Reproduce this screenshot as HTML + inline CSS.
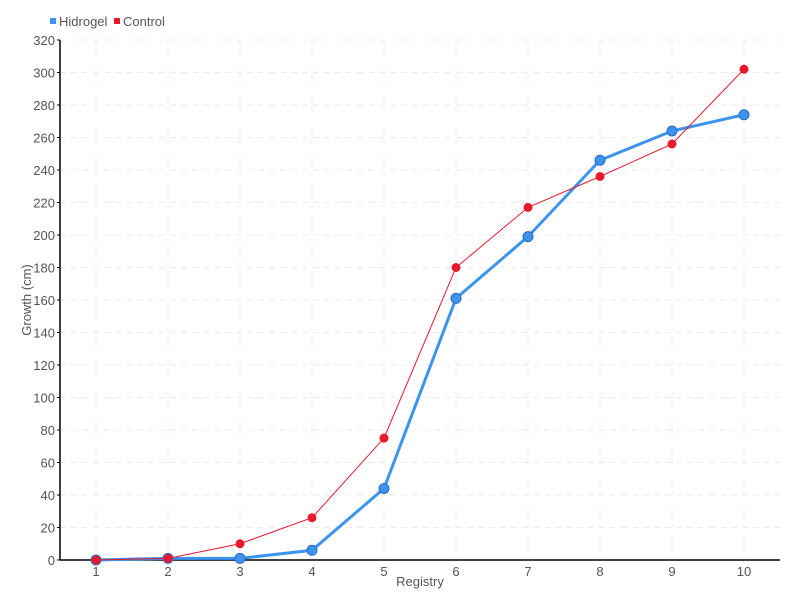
<!DOCTYPE html><html><head><style>body{margin:0;background:#fff}svg{display:block;font-family:"Liberation Sans",sans-serif}</style></head><body>
<svg width="800" height="600" xmlns="http://www.w3.org/2000/svg">
<g stroke="#ebebeb" stroke-dasharray="6,5">
<line x1="60" x2="780" y1="527.5" y2="527.5"/><line x1="60" x2="780" y1="495" y2="495"/><line x1="60" x2="780" y1="462.5" y2="462.5"/><line x1="60" x2="780" y1="430" y2="430"/><line x1="60" x2="780" y1="397.5" y2="397.5"/><line x1="60" x2="780" y1="365" y2="365"/><line x1="60" x2="780" y1="332.5" y2="332.5"/><line x1="60" x2="780" y1="300" y2="300"/><line x1="60" x2="780" y1="267.5" y2="267.5"/><line x1="60" x2="780" y1="235" y2="235"/><line x1="60" x2="780" y1="202.5" y2="202.5"/><line x1="60" x2="780" y1="170" y2="170"/><line x1="60" x2="780" y1="137.5" y2="137.5"/><line x1="60" x2="780" y1="105" y2="105"/><line x1="60" x2="780" y1="72.5" y2="72.5"/><line x1="60" x2="780" y1="40" y2="40"/>
<line x1="96" x2="96" y1="40" y2="560"/><line x1="168" x2="168" y1="40" y2="560"/><line x1="240" x2="240" y1="40" y2="560"/><line x1="312" x2="312" y1="40" y2="560"/><line x1="384" x2="384" y1="40" y2="560"/><line x1="456" x2="456" y1="40" y2="560"/><line x1="528" x2="528" y1="40" y2="560"/><line x1="600" x2="600" y1="40" y2="560"/><line x1="672" x2="672" y1="40" y2="560"/><line x1="744" x2="744" y1="40" y2="560"/>
</g>
<g stroke="#000"><line x1="57" x2="60" y1="560" y2="560"/><line x1="57" x2="60" y1="527.5" y2="527.5"/><line x1="57" x2="60" y1="495" y2="495"/><line x1="57" x2="60" y1="462.5" y2="462.5"/><line x1="57" x2="60" y1="430" y2="430"/><line x1="57" x2="60" y1="397.5" y2="397.5"/><line x1="57" x2="60" y1="365" y2="365"/><line x1="57" x2="60" y1="332.5" y2="332.5"/><line x1="57" x2="60" y1="300" y2="300"/><line x1="57" x2="60" y1="267.5" y2="267.5"/><line x1="57" x2="60" y1="235" y2="235"/><line x1="57" x2="60" y1="202.5" y2="202.5"/><line x1="57" x2="60" y1="170" y2="170"/><line x1="57" x2="60" y1="137.5" y2="137.5"/><line x1="57" x2="60" y1="105" y2="105"/><line x1="57" x2="60" y1="72.5" y2="72.5"/><line x1="57" x2="60" y1="40" y2="40"/></g>
<g font-size="13" fill="#555" text-anchor="end">
<text x="55" y="565">0</text><text x="55" y="532.5">20</text><text x="55" y="500">40</text><text x="55" y="467.5">60</text><text x="55" y="435">80</text><text x="55" y="402.5">100</text><text x="55" y="370">120</text><text x="55" y="337.5">140</text><text x="55" y="305">160</text><text x="55" y="272.5">180</text><text x="55" y="240">200</text><text x="55" y="207.5">220</text><text x="55" y="175">240</text><text x="55" y="142.5">260</text><text x="55" y="110">280</text><text x="55" y="77.5">300</text><text x="55" y="45">320</text>
</g>
<g font-size="13" fill="#555" text-anchor="middle">
<text x="96" y="576">1</text><text x="168" y="576">2</text><text x="240" y="576">3</text><text x="312" y="576">4</text><text x="384" y="576">5</text><text x="456" y="576">6</text><text x="528" y="576">7</text><text x="600" y="576">8</text><text x="672" y="576">9</text><text x="744" y="576">10</text>
<text x="420" y="586">Registry</text>
<text transform="translate(31,300) rotate(-90)">Growth (cm)</text>
</g>
<line x1="60" x2="60" y1="40" y2="560" stroke="#000" stroke-width="1.5"/><line x1="60" x2="780" y1="560" y2="560" stroke="#000" stroke-width="1.5"/>
<polyline fill="none" stroke="#3d94ef" stroke-width="3" points="96,560 168,558.4 240,558.4 312,550.25 384,488.5 456,298.4 528,236.6 600,160.25 672,131 744,114.75"/>
<g fill="#3d94ef" stroke="#2a6bbf"><circle cx="96" cy="560" r="5"/><circle cx="168" cy="558.4" r="5"/><circle cx="240" cy="558.4" r="5"/><circle cx="312" cy="550.25" r="5"/><circle cx="384" cy="488.5" r="5"/><circle cx="456" cy="298.4" r="5"/><circle cx="528" cy="236.6" r="5"/><circle cx="600" cy="160.25" r="5"/><circle cx="672" cy="131" r="5"/><circle cx="744" cy="114.75" r="5"/></g>
<polyline fill="none" stroke="#e8192c" stroke-width="1" points="96,560 168,558.4 240,543.75 312,517.75 384,438.1 456,267.5 528,207.4 600,176.5 672,144 744,69.25"/>
<g fill="#e8192c"><circle cx="96" cy="560" r="4.5"/><circle cx="168" cy="558.4" r="4.5"/><circle cx="240" cy="543.75" r="4.5"/><circle cx="312" cy="517.75" r="4.5"/><circle cx="384" cy="438.1" r="4.5"/><circle cx="456" cy="267.5" r="4.5"/><circle cx="528" cy="207.4" r="4.5"/><circle cx="600" cy="176.5" r="4.5"/><circle cx="672" cy="144" r="4.5"/><circle cx="744" cy="69.25" r="4.5"/></g>
<rect x="50" y="18" width="6" height="6" fill="#3d94ef"/><text x="59" y="26" font-size="13" fill="#555">Hidrogel</text>
<rect x="114" y="18" width="6" height="6" fill="#e8192c"/><text x="123" y="26" font-size="13" fill="#555">Control</text>
</svg></body></html>
